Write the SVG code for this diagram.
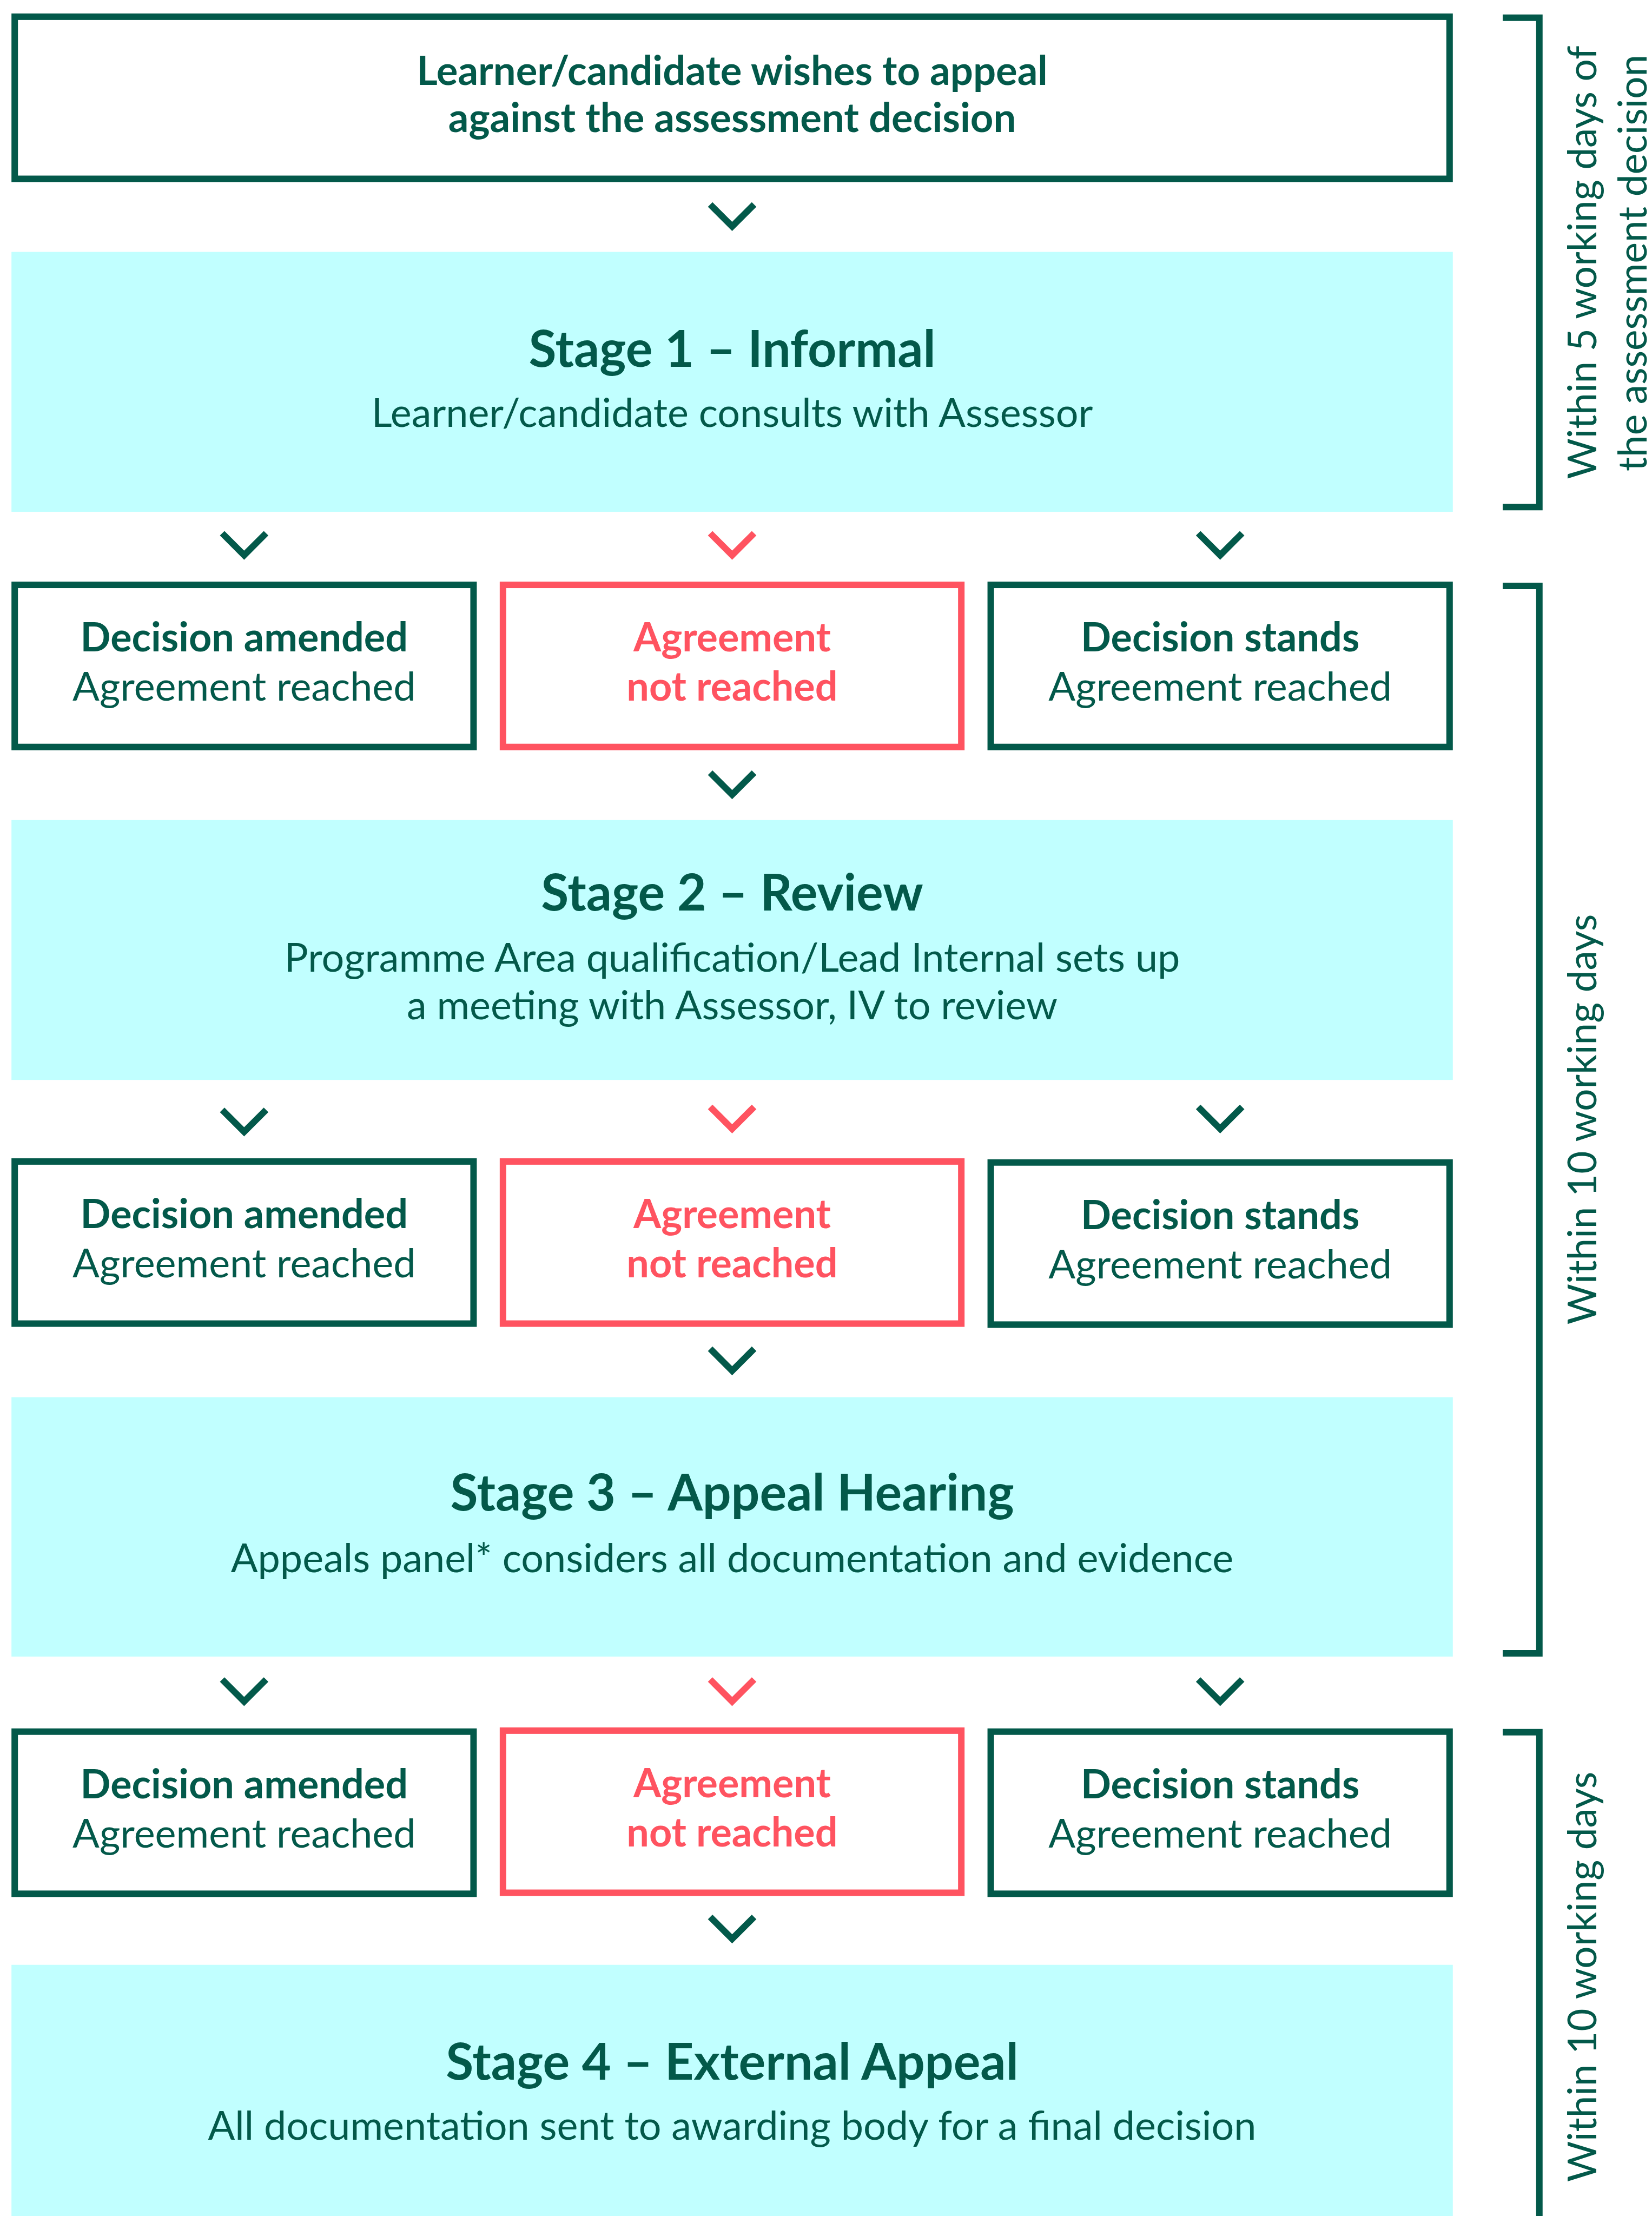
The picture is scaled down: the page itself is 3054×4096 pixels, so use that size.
<svg xmlns="http://www.w3.org/2000/svg" width="3054" height="4096" viewBox="0 0 3054 4096">
<style>
.ob{fill:#fff;stroke:#03594A;stroke-width:13}
.rb{fill:#fff;stroke:#FF5360;stroke-width:13}
.st{fill:#C1FFFF}
.ch{fill:none;stroke:#03594A;stroke-width:13;stroke-linecap:butt;stroke-linejoin:miter}
.chr{fill:none;stroke:#FF5360;stroke-width:13;stroke-linecap:butt;stroke-linejoin:miter}
.br{fill:none;stroke:#03594A;stroke-width:13;stroke-linejoin:miter}
text{font-family:Lato,"Liberation Sans",sans-serif;text-anchor:middle;fill:#03594A}
.b{font-weight:700}
.tb{font-size:80.5px;font-weight:700}
.ti{font-size:101px;font-weight:700}
.sub{font-size:80px}
.rt{font-size:80px}
.red{fill:#FF5360}
.side{font-size:79px}
</style>
<rect width="3054" height="4096" fill="#fff"/>
<g transform="scale(0.922)">
<g id="connectors">
<polyline class="ch" points="1424,410 1468,454 1512,410"/>
<polyline class="ch" points="445.5,1069 489.5,1113 533.5,1069"/>
<polyline class="chr" points="1424,1069 1468,1113 1512,1069"/>
<polyline class="ch" points="2402.5,1069 2446.5,1113 2490.5,1069"/>
<polyline class="ch" points="1424,1549 1468,1593 1512,1549"/>
<polyline class="ch" points="445.5,2225 489.5,2269 533.5,2225"/>
<polyline class="chr" points="1424,2219 1468,2263 1512,2219"/>
<polyline class="ch" points="2402.5,2219 2446.5,2263 2490.5,2219"/>
<polyline class="ch" points="1424,2704 1468,2748 1512,2704"/>
<polyline class="ch" points="445.5,3367 489.5,3411 533.5,3367"/>
<polyline class="chr" points="1424,3367 1468,3411 1512,3367"/>
<polyline class="ch" points="2402.5,3367 2446.5,3411 2490.5,3367"/>
<polyline class="ch" points="1424,3843 1468,3887 1512,3843"/>
</g>
<g id="start">
<rect class="ob" x="29.5" y="33.5" width="2877" height="325"/>
<text class="tb" x="1468" y="170">Learner/candidate wishes to appeal</text>
<text class="tb" x="1468" y="265">against the assessment decision</text>
</g>
<g id="stage1">
<rect class="st" x="23" y="505" width="2890" height="521"/>
<text class="ti" x="1468" y="735">Stage 1 – Informal</text>
<text class="sub" x="1468" y="856">Learner/candidate consults with Assessor</text>
</g>
<g id="s1-amended">
<rect class="ob" x="29.5" y="1172.5" width="920" height="325"/>
<text class="rt b" x="489.5" y="1306">Decision amended</text>
<text class="rt" x="489.5" y="1405">Agreement reached</text>
</g>
<g id="s1-notreached">
<rect class="rb" x="1008.5" y="1172.5" width="919" height="325"/>
<text class="rt b red" x="1468" y="1306">Agreement</text>
<text class="rt b red" x="1468" y="1405">not reached</text>
</g>
<g id="s1-stands">
<rect class="ob" x="1986.5" y="1172.5" width="920" height="325"/>
<text class="rt b" x="2446.5" y="1306">Decision stands</text>
<text class="rt" x="2446.5" y="1405">Agreement reached</text>
</g>
<g id="stage2">
<rect class="st" x="23" y="1644" width="2890" height="521"/>
<text class="ti" x="1468" y="1825">Stage 2 – Review</text>
<text class="sub" x="1468" y="1948">Programme Area qualification/Lead Internal sets up</text>
<text class="sub" x="1468" y="2043">a meeting with Assessor, IV to review</text>
</g>
<g id="s2-amended">
<rect class="ob" x="29.5" y="2328.5" width="920" height="325"/>
<text class="rt b" x="489.5" y="2462">Decision amended</text>
<text class="rt" x="489.5" y="2561">Agreement reached</text>
</g>
<g id="s2-notreached">
<rect class="rb" x="1008.5" y="2328.5" width="919" height="325"/>
<text class="rt b red" x="1468" y="2462">Agreement</text>
<text class="rt b red" x="1468" y="2561">not reached</text>
</g>
<g id="s2-stands">
<rect class="ob" x="1986.5" y="2330.5" width="920" height="325"/>
<text class="rt b" x="2446.5" y="2464">Decision stands</text>
<text class="rt" x="2446.5" y="2563">Agreement reached</text>
</g>
<g id="stage3">
<rect class="st" x="23" y="2801" width="2890" height="520"/>
<text class="ti" x="1468" y="3028">Stage 3 – Appeal Hearing</text>
<text class="sub" x="1468" y="3152">Appeals panel* considers all documentation and evidence</text>
</g>
<g id="s3-amended">
<rect class="ob" x="29.5" y="3471.5" width="920" height="325"/>
<text class="rt b" x="489.5" y="3605">Decision amended</text>
<text class="rt" x="489.5" y="3704">Agreement reached</text>
</g>
<g id="s3-notreached">
<rect class="rb" x="1008.5" y="3469.5" width="919" height="325"/>
<text class="rt b red" x="1468" y="3603">Agreement</text>
<text class="rt b red" x="1468" y="3702">not reached</text>
</g>
<g id="s3-stands">
<rect class="ob" x="1986.5" y="3471.5" width="920" height="325"/>
<text class="rt b" x="2446.5" y="3605">Decision stands</text>
<text class="rt" x="2446.5" y="3704">Agreement reached</text>
</g>
<g id="stage4">
<rect class="st" x="23" y="3939" width="2890" height="560"/>
<text class="ti" x="1468" y="4169">Stage 4 – External Appeal</text>
<text class="sub" x="1468" y="4290">All documentation sent to awarding body for a final decision</text>
</g>
<g id="timeframe1">
<polyline class="br" points="3013,35.5 3086.5,35.5 3086.5,1016.5 3013,1016.5"/>
<text class="side" transform="translate(3201,526) rotate(-90)" x="0" y="0">Within 5 working days of</text>
<text class="side" transform="translate(3301,527) rotate(-90)" x="0" y="0">the assessment decision</text>
</g>
<g id="timeframe2">
<polyline class="br" points="3013,1174.5 3086.5,1174.5 3086.5,3314.5 3013,3314.5"/>
<text class="side" transform="translate(3201,2244) rotate(-90)" x="0" y="0">Within 10 working days</text>
</g>
<g id="timeframe3">
<polyline class="br" points="3013,3472.5 3086.5,3472.5 3086.5,4500"/>
<text class="side" transform="translate(3201,3963) rotate(-90)" x="0" y="0">Within 10 working days</text>
</g>
</g>
</svg>
